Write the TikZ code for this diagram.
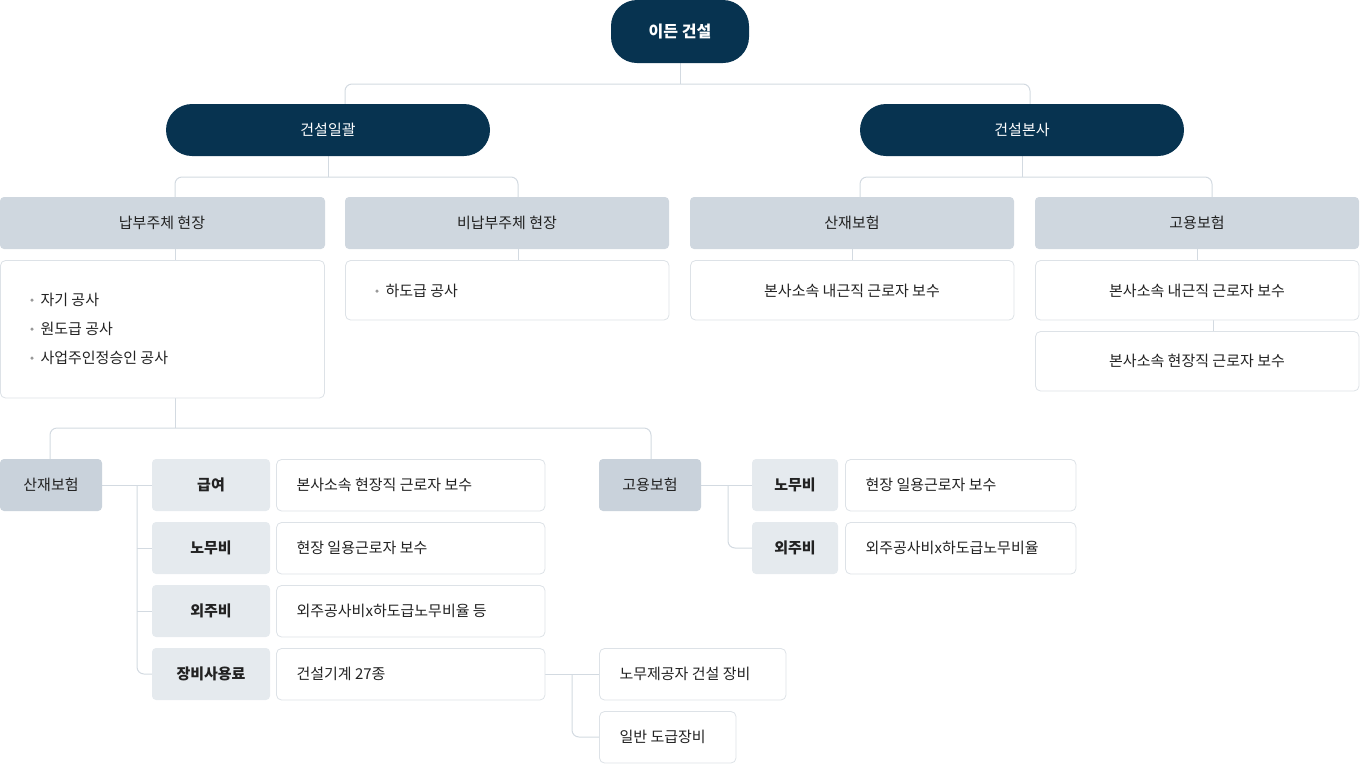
\documentclass[tikz,border=0pt]{standalone}
\usepackage{fontspec}
\setmainfont{Noto Sans CJK KR}
\begin{document}
\begin{tikzpicture}[x=1pt,y=-1pt,
  navy/.style={fill=navyc,draw=none,rounded corners=26pt},
  hdr/.style={fill=hdrc,draw=none,rounded corners=4pt},
  lab/.style={fill=labc,draw=none,rounded corners=4pt},
  wb/.style={fill=white,draw=bordc,line width=0.8pt,rounded corners=5pt},
  tx/.style={text=txt,font=\fontsize{15}{18}\selectfont},
  bt/.style={text=txt,font=\fontsize{15}{18}\selectfont\bfseries},
  dot/.style={fill=gray!80,draw=none,circle,inner sep=0pt,minimum size=3.5pt},
  ln/.style={draw=linec,line width=1pt,rounded corners=7pt}]
\definecolor{navyc}{HTML}{073350}
\definecolor{hdrc}{HTML}{CFD7DF}
\definecolor{hdr2}{HTML}{C9D2DB}
\definecolor{labc}{HTML}{E5EAEE}
\definecolor{bordc}{HTML}{DDE2E7}
\definecolor{linec}{HTML}{D3DAE1}
\definecolor{txt}{HTML}{222222}
\useasboundingbox (0,0) rectangle (1360,764);
% connectors
\draw[ln] (680,63) -- (680,84);
\draw[ln] (345,104) -- (345,84) -- (1030,84) -- (1030,104);
\draw[ln] (328,156) -- (328,177);
\draw[ln] (175,197) -- (175,177) -- (518,177) -- (518,197);
\draw[ln] (1022,156) -- (1022,177);
\draw[ln] (860,197) -- (860,177) -- (1212,177) -- (1212,197);
\draw[ln] (175,249)--(175,260); \draw[ln] (518,249)--(518,260);
\draw[ln] (852,249)--(852,260); \draw[ln] (1197,249)--(1197,260);
\draw[ln] (1213,320)--(1213,331);
\draw[ln] (175,398)--(175,428);
\draw[ln] (50,459) -- (50,428) -- (651,428) -- (651,459);
\draw[ln] (102,485)--(152,485);
\draw[ln] (137,485) -- (137,674) -- (152,674);
\draw[ln] (137,548)--(152,548); \draw[ln] (137,611)--(152,611);
\draw[ln] (545,674)--(599,674);
\draw[ln] (572,674) -- (572,737) -- (599,737);
\draw[ln] (701,485)--(752,485);
\draw[ln] (728,485) -- (728,548) -- (752,548);
% nodes
\path[navy] (611,0) rectangle (749,63); \node[text=white,font=\fontsize{16}{19}\selectfont\bfseries] (top) at (680,32) {이든 건설};
\path[navy] (166,104) rectangle (490,156); \node[text=white,font=\fontsize{15}{18}\selectfont] (a) at (328,130) {건설일괄};
\path[navy] (860,104) rectangle (1184,156); \node[text=white,font=\fontsize{15}{18}\selectfont] (b) at (1022,130) {건설본사};
\path[hdr] (0,197) rectangle (325,249); \node[tx] (h1) at (162,223) {납부주체 현장};
\path[hdr] (345,197) rectangle (669,249); \node[tx] (h2) at (507,223) {비납부주체 현장};
\path[hdr] (690,197) rectangle (1014,249); \node[tx] (h3) at (852,223) {산재보험};
\path[hdr] (1035,197) rectangle (1359,249); \node[tx] (h4) at (1197,223) {고용보험};
\path[wb] (0.5,260.5) rectangle (324.5,398);
\foreach \yy/\t [count=\i] in {300/자기 공사,329/원도급 공사,358/사업주인정승인 공사}{
  \node[dot] (d\i) at (32,\yy) {};
  \node[tx,anchor=west] (l\i) at (37,\yy) {\t};
}
\path[wb] (345.5,260.5) rectangle (669,320);
\node[dot] (d4) at (377,291) {};
\node[tx,anchor=west] (l4) at (382,291) {하도급 공사};
\path[wb] (690.5,260.5) rectangle (1014,320);
\node[tx] (w3) at (852,291) {본사소속 내근직 근로자 보수};
\path[wb] (1035.5,260.5) rectangle (1359,320);
\node[tx] (w4) at (1197,291) {본사소속 내근직 근로자 보수};
\path[wb] (1035.5,331.5) rectangle (1359,391);
\node[tx] (w5) at (1197,361) {본사소속 현장직 근로자 보수};
% lower
\path[hdr,fill=hdr2] (0,459) rectangle (102,511); \node[tx] (s) at (51,485) {산재보험};
\path[hdr,fill=hdr2] (599,459) rectangle (701,511); \node[tx] (g) at (650,485) {고용보험};
\foreach \y/\l/\t [count=\i] in {459/급여/본사소속 현장직 근로자 보수,522/노무비/현장 일용근로자 보수,585/외주비/외주공사비x하도급노무비율 등,648/장비사용료/건설기계 27종}{
  \path[lab] (152,\y) rectangle (270,\y+52);
  \node[bt] (L\i) at (211,\y+26) {\l};
  \path[wb] (276.5,\y+.5) rectangle (545,\y+52);
  \node[tx,anchor=west] (W\i) at (293,\y+26) {\t};
}
\foreach \y/\l/\t [count=\i] in {459/노무비/현장 일용근로자 보수,522/외주비/외주공사비x하도급노무비율}{
  \path[lab] (752,\y) rectangle (838,\y+52);
  \node[bt] (G\i) at (795,\y+26) {\l};
  \path[wb] (845.5,\y+.5) rectangle (1076,\y+52);
  \node[tx,anchor=west] (V\i) at (862,\y+26) {\t};
}
\path[wb] (599.5,648.5) rectangle (786,700);
\node[tx,anchor=west] (e1) at (616,674) {노무제공자 건설 장비};
\path[wb] (599.5,711.5) rectangle (736,763);
\node[tx,anchor=west] (e2) at (616,737) {일반 도급장비};
\end{tikzpicture}
\end{document}
